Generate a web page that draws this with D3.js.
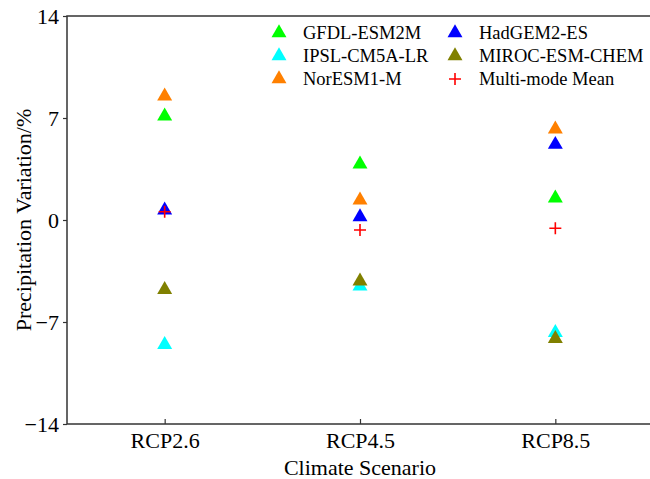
<!DOCTYPE html>
<html>
<head>
<meta charset="utf-8">
<script src="https://cdn.jsdelivr.net/npm/d3@7"></script>
<style>
  body { margin: 0; background: #fff; }
  svg { display: block; font-family: "Liberation Serif", "Times New Roman", serif; }
</style>
</head>
<body>
<div id="chart"></div>
<script>
// scenarios on the x axis
const scenarios = ["RCP2.6", "RCP4.5", "RCP8.5"];
const yTicks = [-14, -7, 0, 7, 14];

// model results, one value per scenario (%)
const gfdl = [7.12, 3.83, 1.5];
const hadgem = [0.67, 0.21, 5.18];
const ipsl = [-8.55, -4.55, -7.73];
const miroc = [-4.78, -4.2, -8.15];
const noresm = [8.5, 1.36, 6.23];
const multiMean = [0.57, -0.69, -0.57];

const models = [
    {name: "GFDL-ESM2M", color: "#00ff00", values: gfdl},
    {name: "HadGEM2-ES", color: "#0000ff", values: hadgem},
    {name: "IPSL-CM5A-LR", color: "#00ffff", values: ipsl},
    {name: "MIROC-ESM-CHEM", color: "#808000", values: miroc},
    {name: "NorESM1-M", color: "#ff8000", values: noresm}
];

const WIDTH = 650;
const HEIGHT = 479;
const margin = {left: 67, top: 16, right: -3, bottom: 55};

const svg = d3.select("#chart")
    .append("svg")
    .attr("width", WIDTH)
    .attr("height", HEIGHT);

const xScale = d3.scalePoint()
    .domain(scenarios)
    .range([margin.left, WIDTH - margin.right])
    .padding(0.5);

const yScale = d3.scaleLinear()
    .domain([-14, 14])
    .range([HEIGHT - margin.bottom, margin.top]);

const axisColor = "#333";

// frame
svg.append("rect")
    .attr("x", margin.left)
    .attr("y", margin.top)
    .attr("width", WIDTH - margin.right - margin.left)
    .attr("height", yScale(-14) - margin.top)
    .attr("fill", "none")
    .attr("stroke", axisColor)
    .attr("stroke-width", 1.5);

// x axis, ticks pointing inward
const xAxis = svg.append("g")
    .attr("transform", `translate(0,${yScale(-14)})`)
    .call(d3.axisBottom(xScale).tickSizeInner(-5).tickSizeOuter(0).tickPadding(8));
xAxis.select(".domain").remove();
xAxis.selectAll("line").attr("stroke", axisColor).attr("stroke-width", 1.2);
xAxis.selectAll("text")
    .attr("fill", "#000")
    .style("font-size", "22px")
    .style("font-family", "Liberation Serif, serif");

// y axis
const yAxis = svg.append("g")
    .attr("transform", `translate(${margin.left},0)`)
    .call(d3.axisLeft(yScale).tickValues(yTicks).tickSizeInner(4).tickSizeOuter(0).tickPadding(4));
yAxis.select(".domain").remove();
yAxis.selectAll("line").attr("stroke", axisColor).attr("stroke-width", 1.2);
yAxis.selectAll("text")
    .attr("fill", "#000")
    .style("font-size", "22px")
    .style("font-family", "Liberation Serif, serif");

// axis titles
svg.append("text")
    .attr("x", xScale("RCP4.5"))
    .attr("y", 475)
    .attr("text-anchor", "middle")
    .style("font-size", "22px")
    .text("Climate Scenario");

svg.append("text")
    .attr("transform", `translate(31,${yScale(0)}) rotate(-90)`)
    .attr("text-anchor", "middle")
    .style("font-size", "22px")
    .text("Precipitation Variation/%");

const triangle = d3.symbol().type(d3.symbolTriangle).size(97);

// model markers
models.forEach(m => {
    svg.append("g")
        .selectAll("path")
        .data(m.values)
        .join("path")
        .attr("d", triangle)
        .attr("transform", (d, i) => `translate(${xScale(scenarios[i])},${yScale(d)})`)
        .attr("fill", m.color);
});

// multi-mode mean as red plus
const plusSize = 6;
function plusPath(s) {
    return `M${-s},0H${s}M0,${-s}V${s}`;
}
svg.append("g")
    .selectAll("path")
    .data(multiMean)
    .join("path")
    .attr("d", plusPath(plusSize))
    .attr("transform", (d, i) => `translate(${xScale(scenarios[i])},${yScale(d)})`)
    .attr("stroke", "#ff0000")
    .attr("stroke-width", 1.6)
    .attr("fill", "none");

// legend, two columns
const legendItems = [
    {name: "GFDL-ESM2M", color: "#00ff00", type: "tri"},
    {name: "IPSL-CM5A-LR", color: "#00ffff", type: "tri"},
    {name: "NorESM1-M", color: "#ff8000", type: "tri"},
    {name: "HadGEM2-ES", color: "#0000ff", type: "tri"},
    {name: "MIROC-ESM-CHEM", color: "#808000", type: "tri"},
    {name: "Multi-mode Mean", color: "#ff0000", type: "plus"}
];
const legendCols = [279, 455];
const legendRows = [33, 56, 79];

const legend = svg.append("g")
    .selectAll("g")
    .data(legendItems)
    .join("g")
    .attr("transform", (d, i) => `translate(${legendCols[Math.floor(i / 3)]},${legendRows[i % 3]})`);

legend.filter(d => d.type === "tri")
    .append("path")
    .attr("d", triangle)
    .attr("fill", d => d.color);

legend.filter(d => d.type === "plus")
    .append("path")
    .attr("d", plusPath(plusSize))
    .attr("stroke", d => d.color)
    .attr("stroke-width", 1.6)
    .attr("fill", "none");

legend.append("text")
    .attr("x", 24)
    .attr("y", 0)
    .attr("dy", "0.32em")
    .style("font-size", "18.5px")
    .text(d => d.name);
</script>
</body>
</html>
